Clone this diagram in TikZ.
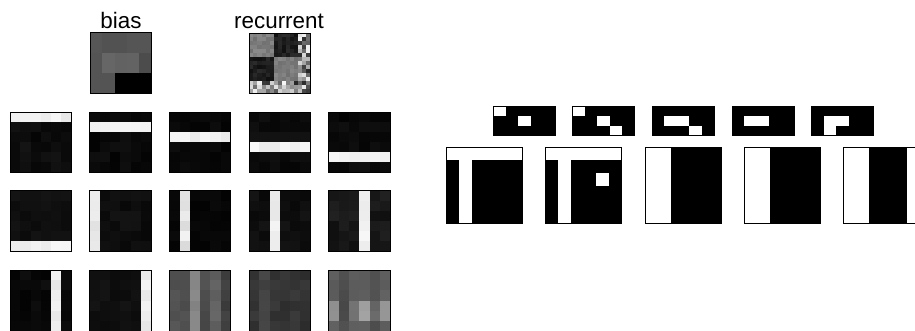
\documentclass[tikz,border=0pt]{standalone}
\usepackage{fontspec}
\setmainfont{Liberation Sans}
\tikzset{
  frame/.style={draw=black,line width=1pt},
  lbl/.style={anchor=base,inner sep=0pt,font=\fontsize{22.4}{26}\selectfont}
}
% #1 x, #2 y, #3 width, #4 height, #5 columns, #6 rows, #7 gray value expression of \r and \c
\newcommand\pixbox[7]{%
  \foreach \r in {1,...,#6}{%
    \foreach \c in {1,...,#5}{%
      \pgfmathsetmacro\gv{max(0,min(1,#7))}%
      \definecolor{pixc}{gray}{\gv}%
      \fill[pixc] ({#1+(\c-1)*#3/#5},{#2+(\r-1)*#4/#6}) rectangle ++({#3/#5+0.4},{#4/#6+0.4});
    }%
  }%
  \draw[frame] (#1,#2) rectangle ++(#3,#4);
}
\begin{document}
\begin{tikzpicture}[x=1pt,y=-1pt]
\useasboundingbox (0,0) rectangle (915,330);
\clip (0,0) rectangle (915,330);
\pgfmathsetseed{7}
% labels
\node[lbl] (biaslbl) at (121,28) {bias};
\node[lbl] (reclbl) at (279,28) {recurrent};
% bias 5x3
\pixbox{90}{32.7}{61.3}{60.7}{5}{3}{ifthenelse(\r==1,0.32+0.02*rnd,ifthenelse(\r==2,ifthenelse(\c==1,0.33,ifthenelse(\c==5,0.3,0.38+0.04*rnd)),ifthenelse(\c<3,0.33,0)))}
% recurrent 15x15
\pixbox{249.3}{33}{61}{60.5}{15}{15}{ifthenelse((\r<13)&&(\c<13),ifthenelse((\r<7)==(\c<7),0.44+0.1*rnd,0.06+0.12*rnd),0.12+0.85*rnd)}
% left grid, row 1
\pixbox{10}{112}{61.5}{60.5}{6}{6}{ifthenelse(\r==1,0.91+0.06*rnd,0.02+0.06*rnd)}
\pixbox{89.7}{112}{61.5}{60.5}{6}{6}{ifthenelse(\r==2,0.93+0.05*rnd,0.01+0.05*rnd)}
\pixbox{169.3}{112}{61.5}{60.5}{6}{6}{ifthenelse(\r==3,0.9+0.07*rnd,0.01+0.04*rnd)}
\pixbox{249}{112}{61.5}{60.5}{6}{6}{ifthenelse(\r==4,0.9+0.08*rnd,ifthenelse(\r==3,0.07,0.02+0.04*rnd))}
\pixbox{328.7}{112}{61.5}{60.5}{6}{6}{ifthenelse(\r==5,0.93+0.04*rnd,0.01+0.05*rnd)}
% left grid, row 2
\pixbox{10}{190.7}{61.5}{60.5}{6}{6}{ifthenelse(\r==6,0.92+0.05*rnd,0.04+0.04*rnd)}
\pixbox{89.7}{190.7}{61.5}{60.5}{6}{6}{ifthenelse(\c==1,0.88+0.06*rnd,0.03+0.05*rnd)}
\pixbox{169.3}{190.7}{61.5}{60.5}{6}{6}{ifthenelse(\c==2,0.85+0.1*rnd,0.01+0.03*rnd)}
\pixbox{249}{190.7}{61.5}{60.5}{6}{6}{ifthenelse(\c==3,0.9+0.06*rnd,0.03+0.05*rnd)}
\pixbox{328.7}{190.7}{61.5}{60.5}{6}{6}{ifthenelse(\c==4,0.92+0.05*rnd,0.06+0.07*rnd)}
% left grid, row 3
\pixbox{10}{270}{61.5}{61}{6}{6}{ifthenelse(\c==5,0.9+0.06*rnd,0.01+0.05*rnd)}
\pixbox{89.7}{270}{61.5}{61}{6}{6}{ifthenelse(\c==6,0.9+0.06*rnd,0.04+0.04*rnd)}
\pixbox{169.3}{270}{61.5}{61}{6}{6}{-0.03+0.06*rnd+ifthenelse(\c==1,0.33,ifthenelse(\c==2,0.3,ifthenelse(\c==3,0.53,ifthenelse(\c==4,0.3,ifthenelse(\c==5,0.38,0.25)))))}
\pixbox{249}{270}{61.5}{61}{6}{6}{-0.03+0.06*rnd+ifthenelse(\c==2,0.26,0.2)}
\pixbox{328.7}{270}{61.5}{61}{6}{6}{-0.02+0.04*rnd+ifthenelse((\r==4)||(\r==5),ifthenelse(\c==1,0.56,ifthenelse(\c==2,0.3,ifthenelse(\c==3,0.45,ifthenelse(\c==4,0.62,ifthenelse(\c==5,0.4,0.58))))),ifthenelse(\c==2,0.3,ifthenelse(\c==5,0.32,0.37)))}
% right: small 5x3 bars
\pixbox{493.3}{106.7}{62}{28.3}{5}{3}{ifthenelse(((\r==1)&&(\c==1))||((\r==2)&&(\c==3)),1,0)}
\pixbox{572.3}{106.7}{62}{28.3}{5}{3}{ifthenelse(((\r==1)&&(\c==1))||((\r==2)&&(\c==3))||((\r==3)&&(\c==4)),1,0)}
\pixbox{652}{106.7}{62}{28.3}{5}{3}{ifthenelse(((\r==2)&&((\c==2)||(\c==3)))||((\r==3)&&(\c==4)),1,0)}
\pixbox{732}{106.7}{62}{28.3}{5}{3}{ifthenelse((\r==2)&&((\c==2)||(\c==3)),1,0)}
\pixbox{811.3}{106.7}{62}{28.3}{5}{3}{ifthenelse(((\r==2)&&((\c==2)||(\c==3)))||((\r==3)&&(\c==2)),1,0)}
% right: large 6x6 boxes
\pixbox{446}{147.7}{76.5}{75.6}{6}{6}{ifthenelse((\r==1)||(\c==2),1,0)}
\pixbox{545}{147.7}{76.5}{75.6}{6}{6}{ifthenelse((\r==1)||(\c==2)||((\r==3)&&(\c==5)),1,0)}
\pixbox{645}{147.7}{76.5}{75.6}{6}{6}{ifthenelse(\c<3,1,0)}
\pixbox{744}{147.7}{76.5}{75.6}{6}{6}{ifthenelse(\c<3,1,0)}
\pixbox{843.3}{147.7}{76.5}{75.6}{6}{6}{ifthenelse((\c<3)||(\c==6),1,0)}
\end{tikzpicture}
\end{document}
